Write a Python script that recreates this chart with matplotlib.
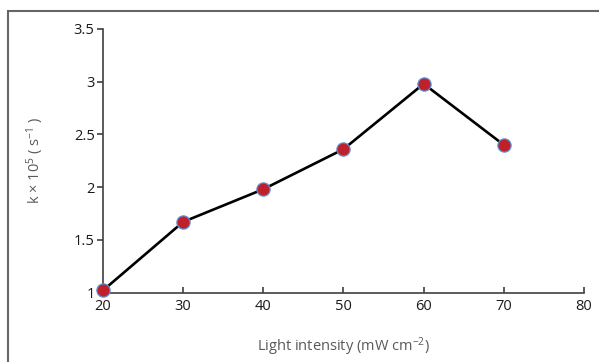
import matplotlib
matplotlib.use('Agg')
from matplotlib import pyplot as plt
from matplotlib.patches import Rectangle

intensity = [20, 30, 40, 50, 60, 70]
k_vals = [1.02, 1.67, 1.98, 2.36, 2.98, 2.40]
xticks = [20, 30, 40, 50, 60, 70, 80]
yticks = [1, 1.5, 2, 2.5, 3, 3.5]
ytick_labels = ['1', '1.5', '2', '2.5', '3', '3.5']

plt.rcParams['font.family'] = ['Open Sans', 'DejaVu Sans']
plt.rcParams['mathtext.fontset'] = 'custom'
plt.rcParams['mathtext.rm'] = 'Open Sans'
plt.rcParams['mathtext.it'] = 'Open Sans'
plt.rcParams['mathtext.default'] = 'regular'

fig = plt.figure(figsize=(5.99, 3.62), dpi=100)
ax = fig.add_axes([103/599, 1 - 292.5/362, (584 - 103)/599, (292.5 - 29)/362])

ax.plot(intensity, k_vals, color='black', lw=1.9, marker='o', ms=9.5,
        markerfacecolor='#c0202a', markeredgecolor='#5b8fd0', markeredgewidth=0.9,
        clip_on=False, zorder=3)

ax.set_xlim(20, 80)
ax.set_ylim(1, 3.5)
ax.set_xticks(xticks)
ax.set_yticks(yticks)
ax.set_yticklabels(ytick_labels)
for s in ['top', 'right']:
    ax.spines[s].set_visible(False)
for s in ['left', 'bottom']:
    ax.spines[s].set_color('#404040')
    ax.spines[s].set_linewidth(1.2)
ax.tick_params(axis='x', direction='in', length=4, width=1.2, color='#404040',
               labelsize=10.5, labelcolor='#1a1a1a', pad=5)
ax.tick_params(axis='y', direction='out', length=4, width=1.2, color='#404040',
               labelsize=10.5, labelcolor='#1a1a1a', pad=2)

ax.set_xlabel('Light intensity (mW cm$^{-2}$)', fontsize=10.5, color='#595959', labelpad=15)
ax.set_ylabel('k × 10$^{5}$ ( s$^{-1}$ )', fontsize=10.5, color='#595959', labelpad=20)

fig.add_artist(Rectangle((8/599, -0.05), 1.0, 1 - 11/362 + 0.05, transform=fig.transFigure,
                         fill=False, edgecolor='#666666', lw=1.5, clip_on=False))

fig.savefig('out.png', dpi=100)
